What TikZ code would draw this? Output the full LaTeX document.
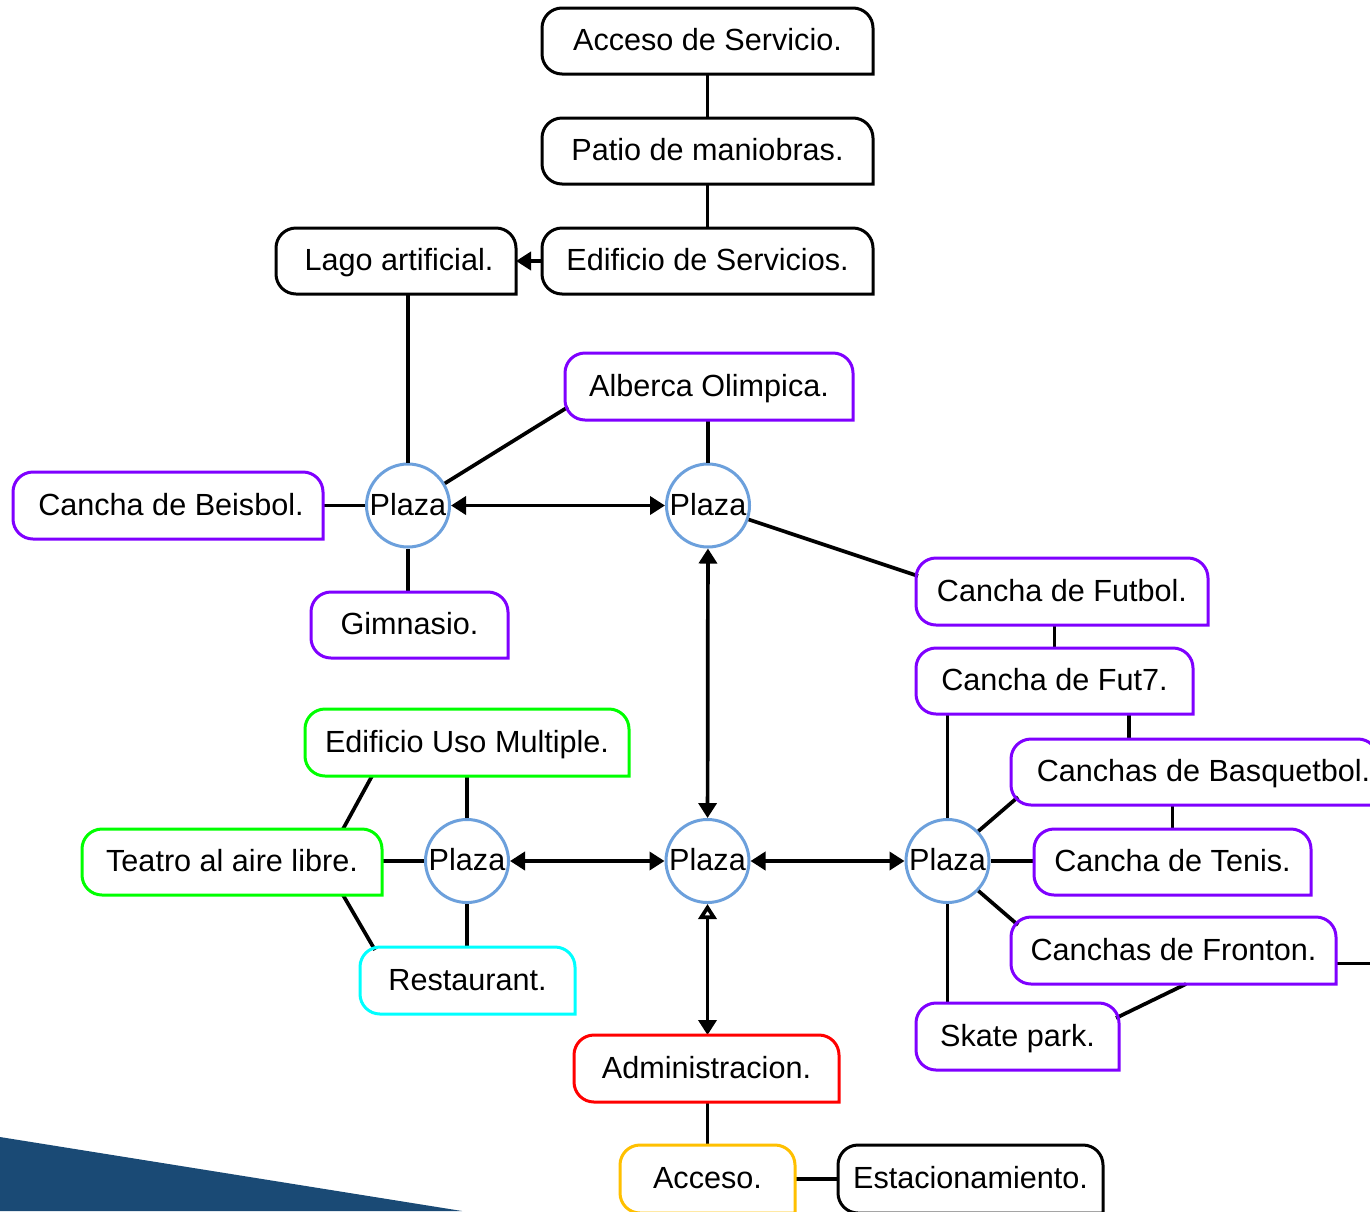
\documentclass[tikz,border=0pt]{standalone}
\usepackage{fontspec}
\setmainfont{Liberation Sans}
\usetikzlibrary{arrows.meta,calc}
\definecolor{purp}{RGB}{127,0,255}
\definecolor{grn}{RGB}{0,255,0}
\definecolor{cyn}{RGB}{0,255,255}
\definecolor{rd}{RGB}{255,0,0}
\definecolor{ylw}{RGB}{255,192,0}
\definecolor{plz}{RGB}{108,160,220}
\definecolor{navyband}{RGB}{26,74,117}
\begin{document}
\begin{tikzpicture}[x=1pt,y=1pt,
  txt/.style={font=\fontsize{30.6}{36}\selectfont, text height=19pt, text depth=0pt, inner sep=0pt},
  tbox/.style={txt, outer sep=0pt, minimum width=#1},
  plaza/.style={txt, circle, draw=plz, line width=3pt, minimum size=83pt, outer sep=1.5pt},
  conn/.style={line width=3.7pt},
  tipf/.tip={Triangle[length=15pt,width=18pt]},
  tipo/.tip={Triangle[open,length=15pt,width=18pt,fill=white]},
  darr/.style={conn, tipf-tipf},
  sarr/.style={conn, -tipf}
]
\clip (0,0) rectangle (1370,-1211);
\fill[white] (0,0) rectangle (1370,-1211);
\fill[navyband] (0,-1137) -- (462,-1211) -- (0,-1211) -- cycle;

% boxes
\node[tbox=331pt, minimum height=66pt] (acs) at (707.5,-41) {Acceso de Servicio.};
\node[tbox=331pt, minimum height=66pt] (pat) at (707.5,-151) {Patio de maniobras.};
\node[tbox=331pt, minimum height=66pt] (eds) at (707.5,-261) {Edificio de Servicios.};
\node[tbox=240pt, minimum height=66pt] (lag) at (396,-261) {\hspace*{6pt}Lago artificial.};
\node[tbox=288pt, minimum height=67pt] (alb) at (709,-386.5) {Alberca Olimpica.};
\node[tbox=310pt, minimum height=67pt] (bei) at (168,-505.5) {\hspace*{6pt}Cancha de Beisbol.};
\node[tbox=197pt, minimum height=66pt] (gim) at (409.5,-625) {Gimnasio.};
\node[tbox=292pt, minimum height=67pt] (fut) at (1062,-591.5) {Cancha de Futbol.};
\node[tbox=277pt, minimum height=66pt] (f7) at (1054.5,-681) {Cancha de Fut7.};
\node[tbox=367pt, minimum height=66pt] (bas) at (1194.5,-772) {\hspace*{18pt}Canchas de Basquetbol.};
\node[tbox=277pt, minimum height=66pt] (ten) at (1172.5,-862) {Cancha de Tenis.};
\node[tbox=325pt, minimum height=67pt] (fro) at (1173.5,-950.5) {Canchas de Fronton.};
\node[tbox=203pt, minimum height=67pt] (ska) at (1017.5,-1036.5) {Skate park.};
\node[tbox=324pt, minimum height=67pt] (usm) at (467,-742.5) {Edificio Uso Multiple.};
\node[tbox=300pt, minimum height=66pt] (tea) at (232,-862) {Teatro al aire libre.};
\node[tbox=215pt, minimum height=67pt] (res) at (467.5,-980.5) {Restaurant.};
\node[tbox=265pt, minimum height=67pt] (adm) at (706.5,-1068.5) {Administracion.};
\node[tbox=175pt, minimum height=68pt] (acc) at (707.5,-1179) {Acceso.};
\node[tbox=265pt, minimum height=68pt] (est) at (970.5,-1179) {Estacionamiento.};

% plazas
\node[plaza] (p1) at (408,-505.5) {Plaza};
\node[plaza] (p2) at (708,-505.5) {Plaza};
\node[plaza] (p3) at (467,-861) {Plaza};
\node[plaza] (p4) at (707.5,-861) {Plaza};
\node[plaza] (p5) at (947.5,-861) {Plaza};

% helper coordinates
\coordinate (k1) at ($(f7.south east)+(-64,0)$);
\coordinate (froR) at ($(fro.east)+(0,-13)$);
\coordinate (froOut) at ($(fro.east)+(40,-13)$);

% connectors
\draw[conn] (acs.south) -- (acs.south |- pat.north);
\draw[conn] (pat.south) -- (pat.south |- eds.north);
\draw[sarr] (eds.west) -- (lag.east);
\draw[conn] (p1.north) -- (p1.north |- lag.south);
\draw[conn] (p1.31) -- ($(alb.south west)+(3,13)$);
\draw[conn] (p2.north) -- (p2.north |- alb.south);
\draw[conn] (p1.west) -- (p1.west -| bei.east);
\draw[conn] (p1.south) -- (p1.south |- gim.north);
\draw[darr] (p1) -- (p2);
\draw[conn] (p2.-19) -- ($(fut.north west)+(2,-18)$);
\draw[darr] (p2) -- (p4);
\draw[conn] (f7.north) -- (f7.north |- fut.south);
\draw[conn] (k1) -- (k1 |- bas.north);
\draw[conn] (p5.north) -- (p5.north |- f7.south);
\draw[conn] (ten.north) -- (ten.north |- bas.south);
\draw[conn] (p5.44) -- ($(bas.south west)+(7,8)$);
\draw[conn] (p5.east) -- (p5.east -| ten.west);
\draw[conn] (p5.-44) -- ($(fro.north west)+(7,-8)$);
\draw[conn] (p5.south) -- (p5.south |- ska.north);
\draw[conn] ($(fro.south west)+(175,0)$) -- ($(ska.north east)+(-3,-15)$);
\draw[conn] (froR) -- (froOut);
\draw[darr] (p4) -- (p5);
\draw[darr] (p3) -- (p4);
\draw[conn] (p3.north) -- (p3.north |- usm.south);
\draw[conn] ($(usm.south west)+(67,0)$) -- ($(tea.north east)+(-39,0)$);
\draw[conn] (p3.west) -- (p3.west -| tea.east);
\draw[conn] ($(tea.south east)+(-39,0)$) -- ($(res.north west)+(15,-3)$);
\draw[conn] (p3.south) -- (p3.south |- res.north);
\draw[conn, tipo-tipf] (p4.south) -- (p4.south |- adm.north);
\draw[conn] (acc.north) -- (acc.north |- adm.south);
\draw[conn] (acc.east) -- (est.west);

% box outlines: rounded except bottom-right corner
\def\rr{20pt}
\foreach \n/\c in {acs/black, pat/black, eds/black, lag/black, est/black,
  alb/purp, bei/purp, gim/purp, fut/purp, f7/purp, bas/purp, ten/purp, fro/purp, ska/purp,
  usm/grn, tea/grn, res/cyn, adm/rd, acc/ylw}{
  \draw[draw=\c, line width=3pt, line join=miter]
    (\n.south east) -- ([yshift=-\rr]\n.north east)
    arc[start angle=0, end angle=90, radius=\rr]
    -- ([xshift=\rr]\n.north west)
    arc[start angle=90, end angle=180, radius=\rr]
    -- ([yshift=\rr]\n.south west)
    arc[start angle=180, end angle=270, radius=\rr]
    -- cycle;
}
\end{tikzpicture}
\end{document}
